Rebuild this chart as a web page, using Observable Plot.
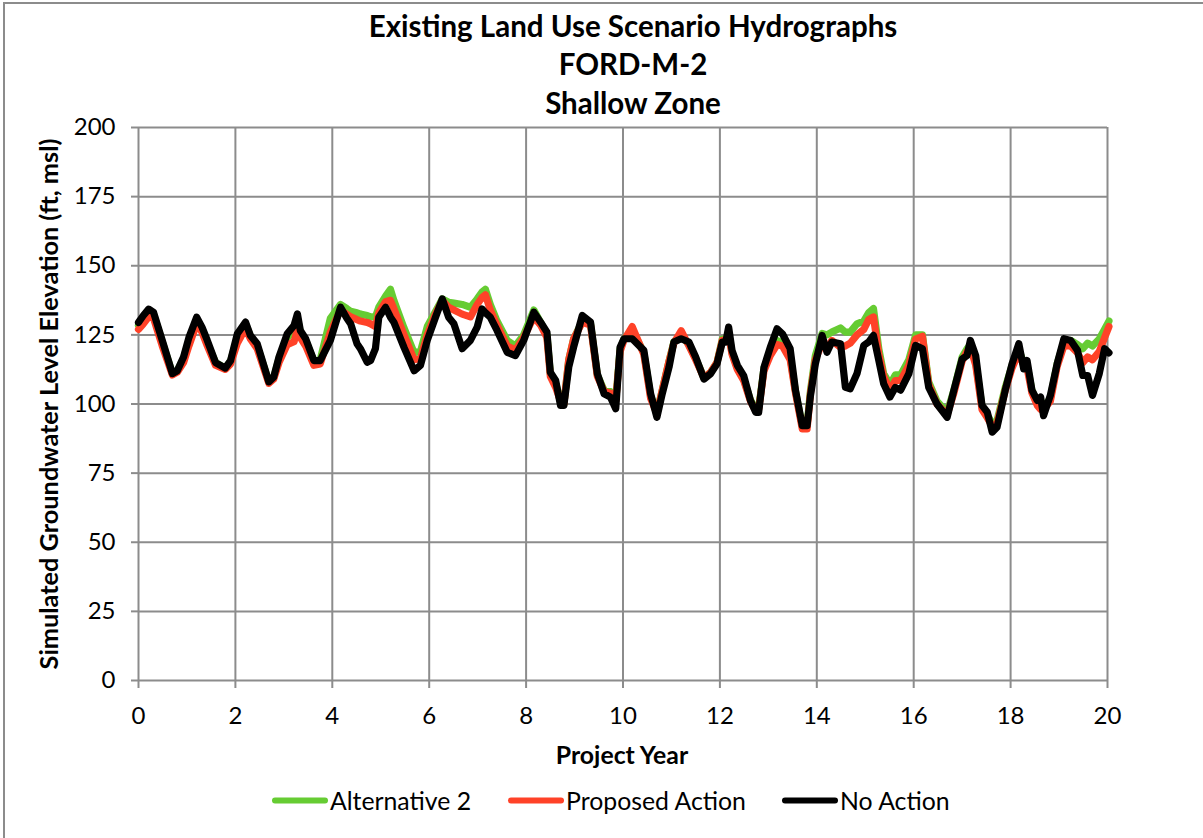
<!DOCTYPE html>
<html>
<head>
<meta charset="utf-8">
<script src="https://cdn.jsdelivr.net/npm/d3@7"></script>
<script src="https://cdn.jsdelivr.net/npm/@observablehq/plot@0.6"></script>
<style>
  html, body { margin: 0; padding: 0; background: #fff; }
  #wrap { position: relative; width: 1203px; height: 838px; overflow: hidden; font-family: Lato, "Open Sans", sans-serif; color: #000; }
  #frame { position: absolute; left: 3px; top: 2px; width: 1300px; height: 900px; border-left: 2px solid #8c8c8c; border-top: 2px solid #8c8c8c; }
  #chart { position: absolute; left: 0; top: 0; }
  #title { position: absolute; left: 283px; width: 700px; top: 7px; text-align: center; font-weight: bold; font-size: 29.5px; line-height: 38.3px; white-space: nowrap; }
  #xlabel { position: absolute; left: 622px; top: 754px; transform: translate(-50%, -50%); font-weight: bold; font-size: 24.8px; white-space: nowrap; }
  #ylabel { position: absolute; left: 48px; top: 404px; transform: translate(-50%, -50%) rotate(-90deg); font-weight: bold; font-size: 25.3px; white-space: nowrap; }
  .leg { position: absolute; top: 800px; transform: translateY(-50%); display: flex; align-items: center; font-size: 24.8px; white-space: nowrap; }
  .leg .sw { width: 56px; height: 6px; border-radius: 3px; margin-right: 2px; }
</style>
</head>
<body>
<div id="wrap">
  <div id="frame"></div>
  <div id="chart"></div>
  <div id="title"></div>
  <div id="xlabel"></div>
  <div id="ylabel"></div>
  <div id="legend"></div>
</div>
<script>
const titleLines = ["Existing Land Use Scenario Hydrographs", "FORD-M-2", "Shallow Zone"];
const xTitle = "Project Year";
const yTitle = "Simulated Groundwater Level Elevation (ft, msl)";
const seriesNames = ["Alternative 2", "Proposed Action", "No Action"];
const seriesColors = ["#66cc33", "#ff4228", "#000000"];
const xTicks = [0, 2, 4, 6, 8, 10, 12, 14, 16, 18, 20];
const yTicks = [0, 25, 50, 75, 100, 125, 150, 175, 200];

const years = [
  0,0.1,0.21,0.31,0.49,0.7,0.8,0.93,1.04,1.2,
  1.31,1.42,1.59,1.79,1.9,2.04,2.21,2.31,2.45,2.69,
  2.79,2.9,3.07,3.21,3.28,3.34,3.45,3.62,3.75,3.96,
  4.17,4.3,4.38,4.51,4.58,4.72,4.79,4.89,4.96,5.1,
  5.2,5.27,5.48,5.69,5.82,5.96,6.13,6.27,6.4,6.51,
  6.68,6.85,6.99,7.09,7.16,7.26,7.4,7.61,7.78,7.95,
  8.16,8.3,8.43,8.5,8.61,8.71,8.78,8.88,8.98,9.16,
  9.33,9.47,9.61,9.74,9.85,9.94,10.02,10.19,10.43,10.57,
  10.7,10.81,10.95,11.05,11.2,11.36,11.5,11.67,11.81,11.94,
  12.05,12.12,12.18,12.25,12.36,12.49,12.63,12.74,12.8,12.91,
  13.04,13.18,13.29,13.45,13.56,13.7,13.8,13.87,13.97,14.11,
  14.21,14.31,14.49,14.59,14.69,14.83,14.97,15.07,15.17,15.28,
  15.38,15.51,15.62,15.73,15.9,16.04,16.18,16.31,16.48,16.69,
  16.83,17,17.1,17.17,17.28,17.41,17.52,17.62,17.72,17.89,
  18.03,18.17,18.27,18.34,18.44,18.55,18.62,18.68,18.82,18.96,
  19.1,19.24,19.38,19.49,19.59,19.69,19.83,19.94,20.03
];

const alternative2 = [
  128.5,131,133.5,132.5,122.5,111,112,116.5,123,130.5,
  127,122,115,113,115.5,124,129,124.5,121,108,
  109.5,116.5,124,126.5,131,126,123,115.5,116,131,
  136,134.5,133.5,133,132.5,132,131.5,131.5,135,139,
  141.5,137.5,127.5,118.5,119,128,133.5,138,136.8,136.5,
  136,135,138,140.5,141.5,136,130,123,121,125,
  134,129.5,125,111,107.5,101,100,116,123.5,130,
  129,110.5,105,104.5,101.5,120,123.5,127,118.5,103,
  97,105,115.5,122.5,125,121.5,116.5,109.5,111.5,115,
  123.5,123.5,125.5,118.5,113,109,101.5,98,98.5,113,
  119,123,122,117,104.5,92,92.5,105,117.5,125.5,
  125,126,127.5,126,126,129,130,133,134.5,120,
  111,107,110.5,110.5,116,125,125,108,101,97,
  105,117,120,121.5,115,99,96,93,94,106,
  114,119.5,115,114,105,100.5,99,99,102,114.5,
  122.5,123,121.5,120,122,121,123.5,127,130
];

const proposedAction = [
  127,129,131.5,131,121,110.5,111.5,115,121,129,
  126,121,114,112.5,114.5,122,127.5,123.5,120,107.5,
  109,115,121.5,122.5,127,124,121,114,114.5,126,
  134,132.5,131.5,130.5,130,129.5,129,128,133,137,
  137.5,134.5,125,116,116.5,125,132.5,137.5,135,134,
  132.5,131.5,136,138.5,139.5,134,128.5,121,119.5,124,
  131.5,128.5,124,110,106,101,100,116,123.5,129.5,
  128.5,110,104.5,104,101,119,123,128,118,102,
  96.5,105,115.5,122,126.5,121,116,109.5,111.5,115,
  123,123,125,118,112.5,108.5,101,97.5,98,112,
  117.5,121.5,121,116,104,91,91,104,116,122,
  120,123,120.5,121,122,125,127,130.5,131.5,118,
  110,105,108.5,108.5,114,123.5,124.5,107,100,96,
  104,115.5,119,120.5,114,98,95,92,93,105,
  113,118.5,114,113,104,99.5,98,98,101,113.5,
  121,121,118.5,115,117,116,119,124,128
];

const noAction = [
  129.5,132,134.3,133.2,123,111,112,117,124,131.4,
  127.8,123,115,113,115.7,125.4,129.6,124.8,121.8,108,
  109.7,117,125.4,128.4,132.6,126.6,123.6,115.7,115.7,123,
  135,131,129,121.8,120,115.1,115.7,120,131.4,135,
  131.4,129.6,120.5,112,114,123,131.4,138,131.4,129,
  120,123,127.8,134.4,133,131.4,126.6,118.7,117.5,123,
  133.2,129.6,126,111.5,108.5,99.5,99.5,113.3,120.5,132,
  129.6,111,103.7,102.5,98.3,120.5,123.6,123.6,119.4,103.7,
  95.2,103.7,113.3,122.4,123.6,122.4,117,109,111,114.5,
  122.4,122.4,127.8,119.4,114,110.3,101.3,97,97,113.3,
  120.5,127.2,125.4,120,105,92.2,92.2,103.1,114.5,124.8,
  118.7,122.4,121.8,106,105.5,111,121.2,122.4,124.8,115.7,
  107.3,102.5,106,105,111,121.2,120,106,100,95.2,
  105,116.3,117.5,123,117.5,99.5,97,89.8,91.6,105,
  114.5,121.8,112.7,115.7,105,101.3,102.5,95.8,103.1,114.5,
  123.6,123,119.4,110.3,110.3,103.1,111,120,118.5
];

const seriesValues = [alternative2, proposedAction, noAction];
const rows = [];
seriesValues.forEach((vals, s) => {
  years.forEach((yr, i) => rows.push({series: seriesNames[s], year: yr, value: vals[i]}));
});

const gridColor = "#8c8c8c";

const chart = Plot.plot({
  width: 1203,
  height: 838,
  marginLeft: 138,
  marginRight: 96,
  marginTop: 127,
  marginBottom: 158,
  style: {fontFamily: "Lato, 'Open Sans', sans-serif", fontSize: "24px", color: "#000", background: "transparent", overflow: "visible"},
  x: {domain: [0, 20], ticks: xTicks},
  y: {domain: [0, 200], ticks: yTicks},
  color: {domain: seriesNames, range: seriesColors},
  marks: [
    Plot.gridX(xTicks, {stroke: gridColor, strokeOpacity: 1, strokeWidth: 2}),
    Plot.gridY(yTicks, {stroke: gridColor, strokeOpacity: 1, strokeWidth: 2}),
    Plot.line(rows, {x: "year", y: "value", z: "series", stroke: "series", strokeWidth: 7.2, strokeLinejoin: "round", strokeLinecap: "round", curve: "linear"}),
    Plot.axisX(xTicks, {tickSize: 8, tickPadding: 18, fontSize: 24, stroke: gridColor, strokeWidth: 2, fill: "#000", label: null, tickFormat: d => String(d)}),
    Plot.axisY(yTicks, {tickSize: 7, tickPadding: 16, fontSize: 24, stroke: gridColor, strokeWidth: 2, fill: "#000", label: null, tickFormat: d => String(d)})
  ]
});
document.getElementById("chart").appendChild(chart);

document.getElementById("title").innerHTML = titleLines.map(t => `<div>${t}</div>`).join("");
document.getElementById("xlabel").textContent = xTitle;
document.getElementById("ylabel").textContent = yTitle;

const legendLefts = [272, 508, 782];
const legend = document.getElementById("legend");
seriesNames.forEach((name, i) => {
  const item = document.createElement("div");
  item.className = "leg";
  item.style.left = legendLefts[i] + "px";
  const sw = document.createElement("div");
  sw.className = "sw";
  sw.style.background = seriesColors[i];
  const tx = document.createElement("span");
  tx.textContent = name;
  item.appendChild(sw);
  item.appendChild(tx);
  legend.appendChild(item);
});
</script>
</body>
</html>
